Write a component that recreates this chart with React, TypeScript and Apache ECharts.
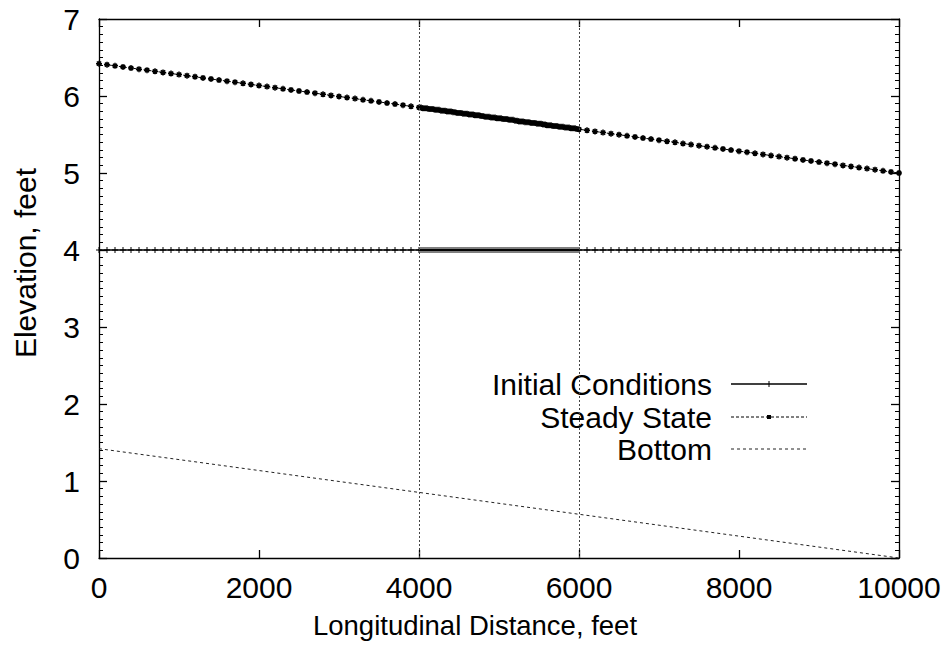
import React, { useEffect, useRef } from "react";
import * as echarts from "echarts";

// Longitudinal distance (feet) of the computational nodes
const distance = [
  0, 100, 200, 300, 400, 500, 600, 700, 800, 900, 1000, 1100, 1200, 1300, 1400, 1500, 1600, 1700, 1800, 1900,
  2000, 2100, 2200, 2300, 2400, 2500, 2600, 2700, 2800, 2900, 3000, 3100, 3200, 3300, 3400, 3500, 3600, 3700, 3800, 3900,
  4000, 4025, 4050, 4075, 4100, 4125, 4150, 4175, 4200, 4225, 4250, 4275, 4300, 4325, 4350, 4375, 4400, 4425, 4450, 4475,
  4500, 4525, 4550, 4575, 4600, 4625, 4650, 4675, 4700, 4725, 4750, 4775, 4800, 4825, 4850, 4875, 4900, 4925, 4950, 4975,
  5000, 5025, 5050, 5075, 5100, 5125, 5150, 5175, 5200, 5225, 5250, 5275, 5300, 5325, 5350, 5375, 5400, 5425, 5450, 5475,
  5500, 5525, 5550, 5575, 5600, 5625, 5650, 5675, 5700, 5725, 5750, 5775, 5800, 5825, 5850, 5875, 5900, 5925, 5950, 5975,
  6000, 6100, 6200, 6300, 6400, 6500, 6600, 6700, 6800, 6900, 7000, 7100, 7200, 7300, 7400, 7500, 7600, 7700, 7800, 7900,
  8000, 8100, 8200, 8300, 8400, 8500, 8600, 8700, 8800, 8900, 9000, 9100, 9200, 9300, 9400, 9500, 9600, 9700, 9800, 9900,
  10000,
];

// Elevation (feet), initial conditions
const initialConditions = [
  4, 4, 4, 4, 4, 4, 4, 4, 4, 4, 4, 4, 4, 4, 4, 4, 4, 4, 4, 4,
  4, 4, 4, 4, 4, 4, 4, 4, 4, 4, 4, 4, 4, 4, 4, 4, 4, 4, 4, 4,
  4, 4, 4, 4, 4, 4, 4, 4, 4, 4, 4, 4, 4, 4, 4, 4, 4, 4, 4, 4,
  4, 4, 4, 4, 4, 4, 4, 4, 4, 4, 4, 4, 4, 4, 4, 4, 4, 4, 4, 4,
  4, 4, 4, 4, 4, 4, 4, 4, 4, 4, 4, 4, 4, 4, 4, 4, 4, 4, 4, 4,
  4, 4, 4, 4, 4, 4, 4, 4, 4, 4, 4, 4, 4, 4, 4, 4, 4, 4, 4, 4,
  4, 4, 4, 4, 4, 4, 4, 4, 4, 4, 4, 4, 4, 4, 4, 4, 4, 4, 4, 4,
  4, 4, 4, 4, 4, 4, 4, 4, 4, 4, 4, 4, 4, 4, 4, 4, 4, 4, 4, 4,
  4,
];

// Elevation (feet), steady state water surface
const steadyState = [
  6.42, 6.406, 6.392, 6.377, 6.363, 6.349, 6.335, 6.321, 6.306, 6.292, 6.278, 6.264, 6.25, 6.235, 6.221, 6.207, 6.193, 6.179, 6.164, 6.15,
  6.136, 6.122, 6.108, 6.093, 6.079, 6.065, 6.051, 6.037, 6.022, 6.008, 5.994, 5.98, 5.966, 5.951, 5.937, 5.923, 5.909, 5.895, 5.88, 5.866,
  5.852, 5.85, 5.84, 5.84, 5.84, 5.83, 5.83, 5.83, 5.82, 5.82, 5.82, 5.81, 5.81, 5.81, 5.8, 5.8, 5.8, 5.79, 5.79, 5.78,
  5.78, 5.78, 5.77, 5.77, 5.77, 5.76, 5.76, 5.76, 5.75, 5.75, 5.75, 5.74, 5.74, 5.73, 5.73, 5.73, 5.72, 5.72, 5.72, 5.71,
  5.71, 5.71, 5.7, 5.7, 5.7, 5.69, 5.69, 5.69, 5.68, 5.68, 5.67, 5.67, 5.67, 5.66, 5.66, 5.66, 5.65, 5.65, 5.65, 5.64,
  5.64, 5.64, 5.63, 5.63, 5.62, 5.62, 5.62, 5.61, 5.61, 5.61, 5.6, 5.6, 5.6, 5.59, 5.59, 5.59, 5.58, 5.58, 5.58, 5.57,
  5.568, 5.554, 5.54, 5.525, 5.511, 5.497, 5.483, 5.469, 5.454, 5.44, 5.426, 5.412, 5.398, 5.383, 5.369, 5.355, 5.341, 5.327, 5.312, 5.298,
  5.284, 5.27, 5.256, 5.241, 5.227, 5.213, 5.199, 5.185, 5.17, 5.156, 5.142, 5.128, 5.114, 5.099, 5.085, 5.071, 5.057, 5.043, 5.028, 5.014,
  5.0,
];

// Channel bottom
const bottomDistance = [0, 10000];
const bottomElevation = [1.42, 0];

// Vertical reference lines (feet)
const referenceLines = [4000, 6000];

const seriesNames = ["Initial Conditions", "Steady State", "Bottom"];
const xTitle = "Longitudinal Distance, feet";
const yTitle = "Elevation, feet";

const FONT = "Liberation Sans, Arial, Helvetica, sans-serif";
const PLUS = "path://M5,0L5,10M0,5L10,5";
const STAR = "path://M0,5L10,5M5,0L5,10M1.5,1.5L8.5,8.5M1.5,8.5L8.5,1.5";

export default function App() {
  const ref = useRef<HTMLDivElement>(null);

  useEffect(() => {
    if (!ref.current) return;
    const chart = echarts.init(ref.current, undefined, { renderer: "svg" });

    const zip = (xs: number[], ys: number[]) => xs.map((x, i) => [x, ys[i]]);

    const axisLine = { show: true, onZero: false, lineStyle: { color: "#000", width: 1.3 } };
    const label = { color: "#000", fontFamily: FONT, fontSize: 30 };
    const tick = { show: true, inside: true, length: 8, lineStyle: { color: "#000", width: 1.3 } };
    const minor = { show: true, splitNumber: 10, length: 4, lineStyle: { color: "#000", width: 1 } };

    const legendX = 712;
    const sampleX1 = 731;
    const sampleX2 = 807;
    const rowsY = [384, 417, 449];

    const option: any = {
      animation: false,
      backgroundColor: "#fff",
      grid: { left: 99, right: 48, top: 19, bottom: 98, containLabel: false },
      xAxis: [
        {
          type: "value",
          min: 0,
          max: 10000,
          interval: 2000,
          position: "bottom",
          axisLine,
          axisTick: tick,
          axisLabel: { ...label, margin: 14, formatter: (v: number) => String(v) },
          splitLine: { show: false },
        },
        {
          type: "value",
          min: 0,
          max: 10000,
          interval: 2000,
          position: "top",
          axisLine,
          axisTick: tick,
          axisLabel: { show: false },
          splitLine: { show: false },
        },
      ],
      yAxis: [
        {
          type: "value",
          min: 0,
          max: 7,
          interval: 1,
          position: "left",
          axisLine,
          axisTick: tick,
          minorTick: minor,
          axisLabel: { ...label, margin: 19 },
          splitLine: { show: false },
        },
        {
          type: "value",
          min: 0,
          max: 7,
          interval: 1,
          position: "right",
          axisLine,
          axisTick: tick,
          minorTick: minor,
          axisLabel: { show: false },
          splitLine: { show: false },
        },
      ],
      series: [
        {
          name: seriesNames[2],
          type: "line",
          data: zip(bottomDistance, bottomElevation),
          showSymbol: false,
          symbol: "none",
          lineStyle: { color: "#222", width: 1, type: [3, 3] },
          silent: true,
          z: 2,
          markLine: {
            silent: true,
            symbol: ["none", "none"],
            label: { show: false },
            lineStyle: { color: "#444", width: 1, type: [2, 2] },
            data: referenceLines.map((v) => ({ xAxis: v })),
          },
        },
        {
          name: seriesNames[0],
          type: "line",
          data: zip(distance, initialConditions),
          symbol: PLUS,
          symbolSize: [6, 6],
          itemStyle: { color: "#000", borderColor: "#000", borderWidth: 1 },
          lineStyle: { color: "#000", width: 1.5 },
          silent: true,
          z: 3,
        },
        {
          name: seriesNames[1],
          type: "line",
          data: zip(distance, steadyState),
          symbol: STAR,
          symbolSize: [6, 6],
          itemStyle: { color: "#000", borderColor: "#000", borderWidth: 1.5 },
          lineStyle: { color: "#000", width: 1, type: [3, 2] },
          silent: true,
          z: 4,
        },
      ],
      graphic: [
        {
          type: "text",
          x: 25,
          y: 263,
          rotation: Math.PI / 2,
          style: { text: yTitle, fill: "#000", font: `30px ${FONT}`, textAlign: "center", textVerticalAlign: "middle" },
        },
        {
          type: "text",
          x: 475,
          y: 625,
          style: { text: xTitle, fill: "#000", font: `27.5px ${FONT}`, textAlign: "center", textVerticalAlign: "middle" },
        },
        ...seriesNames.map((name, i) => ({
          type: "text",
          x: legendX,
          y: rowsY[i],
          style: { text: name, fill: "#000", font: `30px ${FONT}`, textAlign: "right", textVerticalAlign: "middle" },
        })),
        {
          type: "line",
          shape: { x1: sampleX1, y1: rowsY[0], x2: sampleX2, y2: rowsY[0] },
          style: { stroke: "#000", lineWidth: 1.5 },
        },
        {
          type: "line",
          shape: { x1: 769, y1: rowsY[0] - 3, x2: 769, y2: rowsY[0] + 3 },
          style: { stroke: "#000", lineWidth: 1 },
        },
        {
          type: "line",
          shape: { x1: sampleX1, y1: rowsY[1], x2: sampleX2, y2: rowsY[1] },
          style: { stroke: "#000", lineWidth: 1, lineDash: [3, 2] },
        },
        {
          type: "rect",
          shape: { x: 767, y: rowsY[1] - 2, width: 4, height: 4 },
          style: { fill: "#000" },
        },
        {
          type: "line",
          shape: { x1: sampleX1, y1: rowsY[2], x2: sampleX2, y2: rowsY[2] },
          style: { stroke: "#222", lineWidth: 1, lineDash: [3, 3] },
        },
      ],
    };

    chart.setOption(option);
    return () => chart.dispose();
  }, []);

  return (
    <div
      ref={ref}
      style={{ position: "fixed", left: 0, top: 0, width: 947, height: 656, background: "#fff" }}
    />
  );
}
